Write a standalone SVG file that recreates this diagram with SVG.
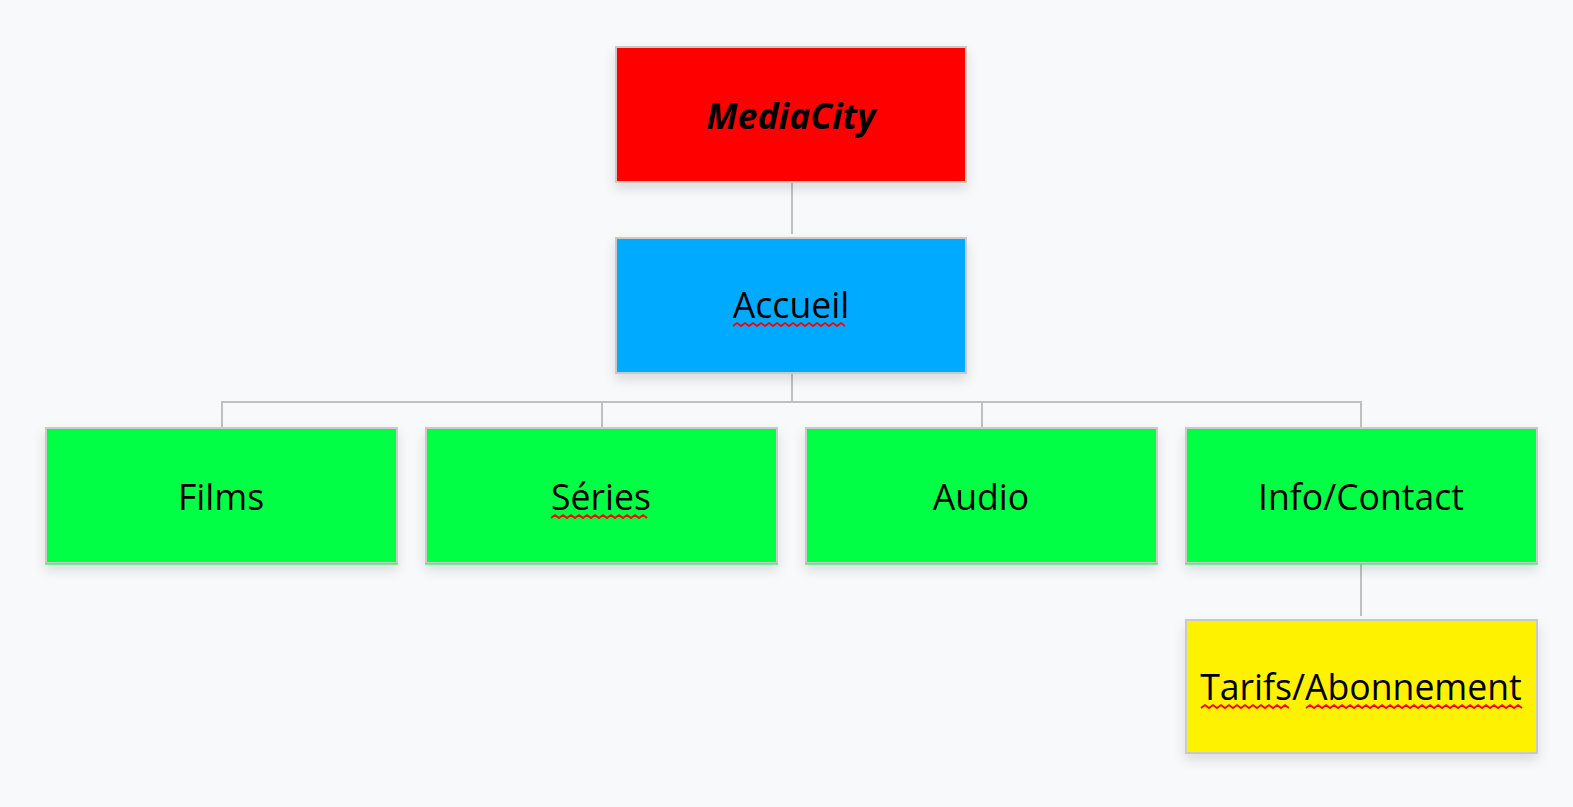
<svg xmlns="http://www.w3.org/2000/svg" width="1573" height="807" viewBox="0 0 1573 807">
<style>
.box{stroke:#c9c9c9;stroke-width:2}
.lbl{font-family:"Open Sans","Noto Sans",sans-serif;font-size:35.6px;fill:#000;text-anchor:middle}
.conn{stroke:#c0c0c0;stroke-width:2;fill:none}
.sq{stroke:#ff0000;stroke-width:1.8;fill:none}
</style>
<defs>
<filter id="sh" x="-10%" y="-20%" width="120%" height="150%">
<feDropShadow dx="0" dy="6" stdDeviation="6" flood-color="#000" flood-opacity="0.12"/>
</filter>
</defs>
<rect width="1573" height="807" fill="#f8f9fb"/>
<g id="connectors">
<path class="conn" d="M792 182V234"/>
<path class="conn" d="M792 373V402"/>
<path class="conn" d="M222 429V402H1361V429"/>
<path class="conn" d="M602 402V429"/>
<path class="conn" d="M982 402V429"/>
<path class="conn" d="M1361 564V616"/>
</g>
<g id="mediacity">
<rect class="box" x="616" y="47" width="350" height="135" fill="#ff0000" filter="url(#sh)"/>
<text class="lbl" x="791" y="129" font-weight="bold" font-style="italic">MediaCity</text>
</g>
<g id="accueil">
<rect class="box" x="616" y="238" width="350" height="135" fill="#00aaff" filter="url(#sh)"/>
<text class="lbl" x="791" y="318">Accueil</text>
<path class="sq" d="M733 326l4-3 4 3 4-3 4 3 4-3 4 3 4-3 4 3 4-3 4 3 4-3 4 3 4-3 4 3 4-3 4 3 4-3 4 3 4-3 4 3 4-3 4 3 4-3 4 3 4-3 4 3 4-3 4 3"/>
</g>
<g id="films">
<rect class="box" x="46" y="428" width="351" height="135" fill="#00ff44" filter="url(#sh)"/>
<line x1="45" y1="564" x2="398" y2="564" stroke="#00ff44" stroke-width="1"/>
<text class="lbl" x="221" y="510">Films</text>
</g>
<g id="series">
<rect class="box" x="426" y="428" width="351" height="135" fill="#00ff44" filter="url(#sh)"/>
<line x1="425" y1="564" x2="778" y2="564" stroke="#00ff44" stroke-width="1"/>
<text class="lbl" x="601" y="510">Séries</text>
<path class="sq" d="M551 518l4-3 4 3 4-3 4 3 4-3 4 3 4-3 4 3 4-3 4 3 4-3 4 3 4-3 4 3 4-3 4 3 4-3 4 3 4-3 4 3 4-3 4 3 4-3 4 3"/>
</g>
<g id="audio">
<rect class="box" x="806" y="428" width="351" height="135" fill="#00ff44" filter="url(#sh)"/>
<line x1="805" y1="564" x2="1158" y2="564" stroke="#00ff44" stroke-width="1"/>
<text class="lbl" x="981" y="510">Audio</text>
</g>
<g id="info">
<rect class="box" x="1186" y="428" width="351" height="135" fill="#00ff44" filter="url(#sh)"/>
<line x1="1185" y1="564" x2="1538" y2="564" stroke="#00ff44" stroke-width="1"/>
<text class="lbl" x="1361" y="510">Info/Contact</text>
</g>
<g id="tarifs">
<rect class="box" x="1186" y="620" width="351" height="133" fill="#fff200" filter="url(#sh)"/>
<text class="lbl" x="1361" y="700">Tarifs/Abonnement</text>
<path class="sq" d="M1201 708l4-3 4 3 4-3 4 3 4-3 4 3 4-3 4 3 4-3 4 3 4-3 4 3 4-3 4 3 4-3 4 3 4-3 4 3 4-3 4 3 4-3 4 3"/>
<path class="sq" d="M1306 708l4-3 4 3 4-3 4 3 4-3 4 3 4-3 4 3 4-3 4 3 4-3 4 3 4-3 4 3 4-3 4 3 4-3 4 3 4-3 4 3 4-3 4 3 4-3 4 3 4-3 4 3 4-3 4 3 4-3 4 3 4-3 4 3 4-3 4 3 4-3 4 3 4-3 4 3 4-3 4 3 4-3 4 3 4-3 4 3 4-3 4 3 4-3 4 3 4-3 4 3 4-3 4 3 4-3 4 3"/>
</g>
</svg>
